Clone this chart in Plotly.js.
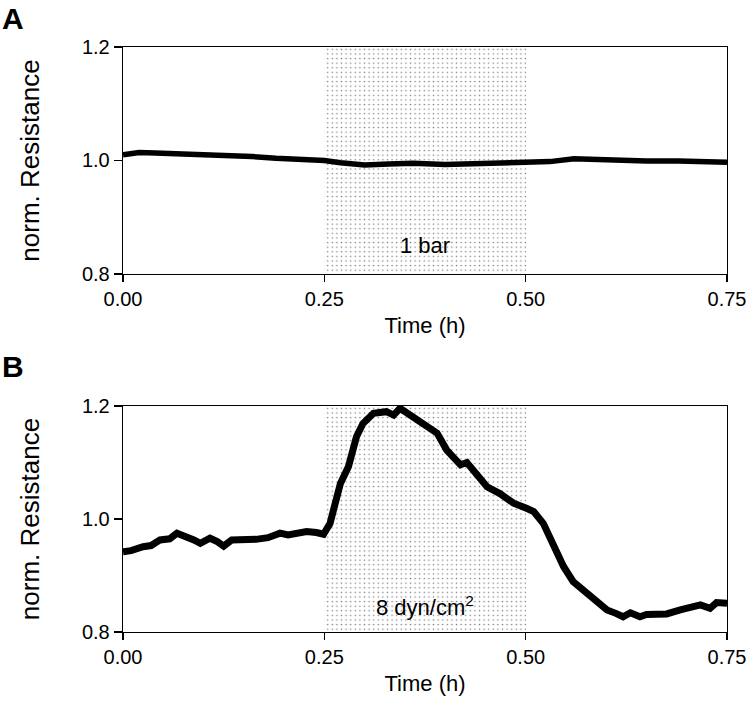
<!DOCTYPE html>
<html>
<head>
<meta charset="utf-8">
<script src="https://cdn.plot.ly/plotly-3.0.1.min.js"></script>
<style>html,body{margin:0;padding:0;background:#fff;}#chart{width:750px;height:701px;}</style>
</head>
<body>
<div id="chart"></div>
<script>
// Panel A: pressure 1 bar
const timeA = [0, 0.02, 0.04, 0.07, 0.10, 0.13, 0.16, 0.19, 0.22, 0.25, 0.27, 0.30, 0.33, 0.36, 0.40, 0.43, 0.46, 0.50, 0.53, 0.56, 0.58, 0.61, 0.65, 0.69, 0.72, 0.75];
const resA  = [1.010, 1.014, 1.013, 1.012, 1.011, 1.009, 1.007, 1.004, 1.002, 1.000, 0.996, 0.992, 0.994, 0.995, 0.993, 0.994, 0.994, 0.995, 0.998, 1.003, 1.002, 0.999, 0.999, 0.999, 0.998, 0.997];

// Panel B: shear stress 8 dyn/cm2
const timeB = [0, 0.01, 0.025, 0.035, 0.046, 0.058, 0.067, 0.073, 0.079, 0.088, 0.096, 0.102, 0.108, 0.117, 0.125, 0.135, 0.15, 0.165, 0.18, 0.195, 0.205, 0.215, 0.228, 0.24, 0.249, 0.257, 0.265, 0.27, 0.28, 0.29, 0.298, 0.311, 0.327, 0.336, 0.344, 0.352, 0.36, 0.377, 0.39, 0.402, 0.412, 0.419, 0.427, 0.435, 0.445, 0.452, 0.468, 0.485, 0.501, 0.51, 0.522, 0.534, 0.547, 0.559, 0.576, 0.588, 0.601, 0.612, 0.621, 0.63, 0.642, 0.65, 0.659, 0.675, 0.692, 0.705, 0.717, 0.729, 0.737, 0.75];
const resB  = [0.942, 0.944, 0.951, 0.953, 0.963, 0.965, 0.975, 0.972, 0.969, 0.963, 0.957, 0.960, 0.966, 0.960, 0.952, 0.963, 0.963, 0.964, 0.967, 0.975, 0.972, 0.975, 0.978, 0.976, 0.973, 0.992, 1.030, 1.063, 1.093, 1.146, 1.169, 1.187, 1.190, 1.184, 1.196, 1.188, 1.181, 1.163, 1.152, 1.122, 1.105, 1.096, 1.100, 1.087, 1.070, 1.057, 1.045, 1.028, 1.019, 1.013, 0.992, 0.957, 0.916, 0.889, 0.868, 0.854, 0.839, 0.833, 0.827, 0.834, 0.827, 0.831, 0.832, 0.832, 0.839, 0.843, 0.848, 0.842, 0.852, 0.851];

// Stimulus window and axis settings
const stimWindow = [0.25, 0.50];
const yRange = [0.8, 1.2];
const xRange = [0, 0.75];
const stimLabels = ['1 bar', '8 dyn/cm<sup>2</sup>'];
const panelLabels = ['A', 'B'];

const FONT = 'Arial, "Liberation Sans", Helvetica, sans-serif';

function stimBar(xa, ya) {
  return {
    type: 'bar', xaxis: xa, yaxis: ya,
    x: [(stimWindow[0] + stimWindow[1]) / 2],
    width: [stimWindow[1] - stimWindow[0]],
    base: [yRange[0]],
    y: [yRange[1] - yRange[0]],
    marker: {
      color: '#ffffff',
      line: {width: 0},
      pattern: {shape: '.', size: 4.6, solidity: 0.09, fgcolor: '#000', bgcolor: '#ffffff', fillmode: 'overlay'}
    },
    hoverinfo: 'skip', showlegend: false
  };
}

const traces = [
  stimBar('x', 'y'),
  {type: 'scatter', mode: 'lines', x: timeA, y: resA, xaxis: 'x', yaxis: 'y',
   line: {color: '#000', width: 5.5}, showlegend: false},
  stimBar('x2', 'y2'),
  {type: 'scatter', mode: 'lines', x: timeB, y: resB, xaxis: 'x2', yaxis: 'y2',
   line: {color: '#000', width: 7}, showlegend: false}
];

function xAxis(anchor) {
  return {
    anchor: anchor, domain: [0, 1], range: xRange, dtick: 0.25, tick0: 0, tickformat: '.2f',
    showline: true, mirror: true, linecolor: '#000', linewidth: 1.3,
    ticks: 'outside', ticklen: 7, tickwidth: 1.3, tickcolor: '#000',
    showgrid: false, zeroline: false,
    tickfont: {family: FONT, size: 20, color: '#000'},
    title: {text: 'Time (h)', font: {family: FONT, size: 22, color: '#000'}, standoff: 8},
    automargin: false, fixedrange: true
  };
}
function yAxis(anchor, domain) {
  return {
    anchor: anchor, domain: domain, range: yRange, dtick: 0.2, tick0: 0.8, tickformat: '.1f',
    showline: true, mirror: true, linecolor: '#000', linewidth: 1.3,
    ticks: 'outside', ticklen: 8, tickwidth: 1.3, tickcolor: '#000',
    showgrid: false, zeroline: false,
    tickfont: {family: FONT, size: 20, color: '#000'},
    title: {text: 'norm. Resistance', font: {family: FONT, size: 26, color: '#000'}, standoff: 34},
    automargin: false, fixedrange: true
  };
}

const layout = {
  width: 750, height: 701,
  margin: {l: 123, r: 23, t: 47, b: 69},
  paper_bgcolor: '#fff', plot_bgcolor: 'rgba(0,0,0,0)',
  showlegend: false, bargap: 0,
  xaxis: xAxis('y'),
  yaxis: yAxis('x', [0.612, 1]),
  xaxis2: xAxis('y2'),
  yaxis2: yAxis('x2', [0, 0.3863]),
  annotations: [
    {xref: 'x', yref: 'y', x: 0.375, y: 0.851, text: stimLabels[0], showarrow: false,
     font: {family: FONT, size: 22, color: '#000'}},
    {xref: 'x2', yref: 'y2', x: 0.375, y: 0.846, text: stimLabels[1], showarrow: false,
     font: {family: FONT, size: 22, color: '#000'}},
    {xref: 'paper', yref: 'paper', x: -123/604, y: 1 + 28/585, xanchor: 'left', yanchor: 'middle',
     text: '<b>' + panelLabels[0] + '</b>', showarrow: false, font: {family: FONT, size: 30, color: '#000'}},
    {xref: 'paper', yref: 'paper', x: -123/604, y: (632 - 366)/585, xanchor: 'left', yanchor: 'middle',
     text: '<b>' + panelLabels[1] + '</b>', showarrow: false, font: {family: FONT, size: 30, color: '#000'}}
  ]
};

Plotly.newPlot('chart', traces, layout, {displayModeBar: false, staticPlot: true});
</script>
</body>
</html>
